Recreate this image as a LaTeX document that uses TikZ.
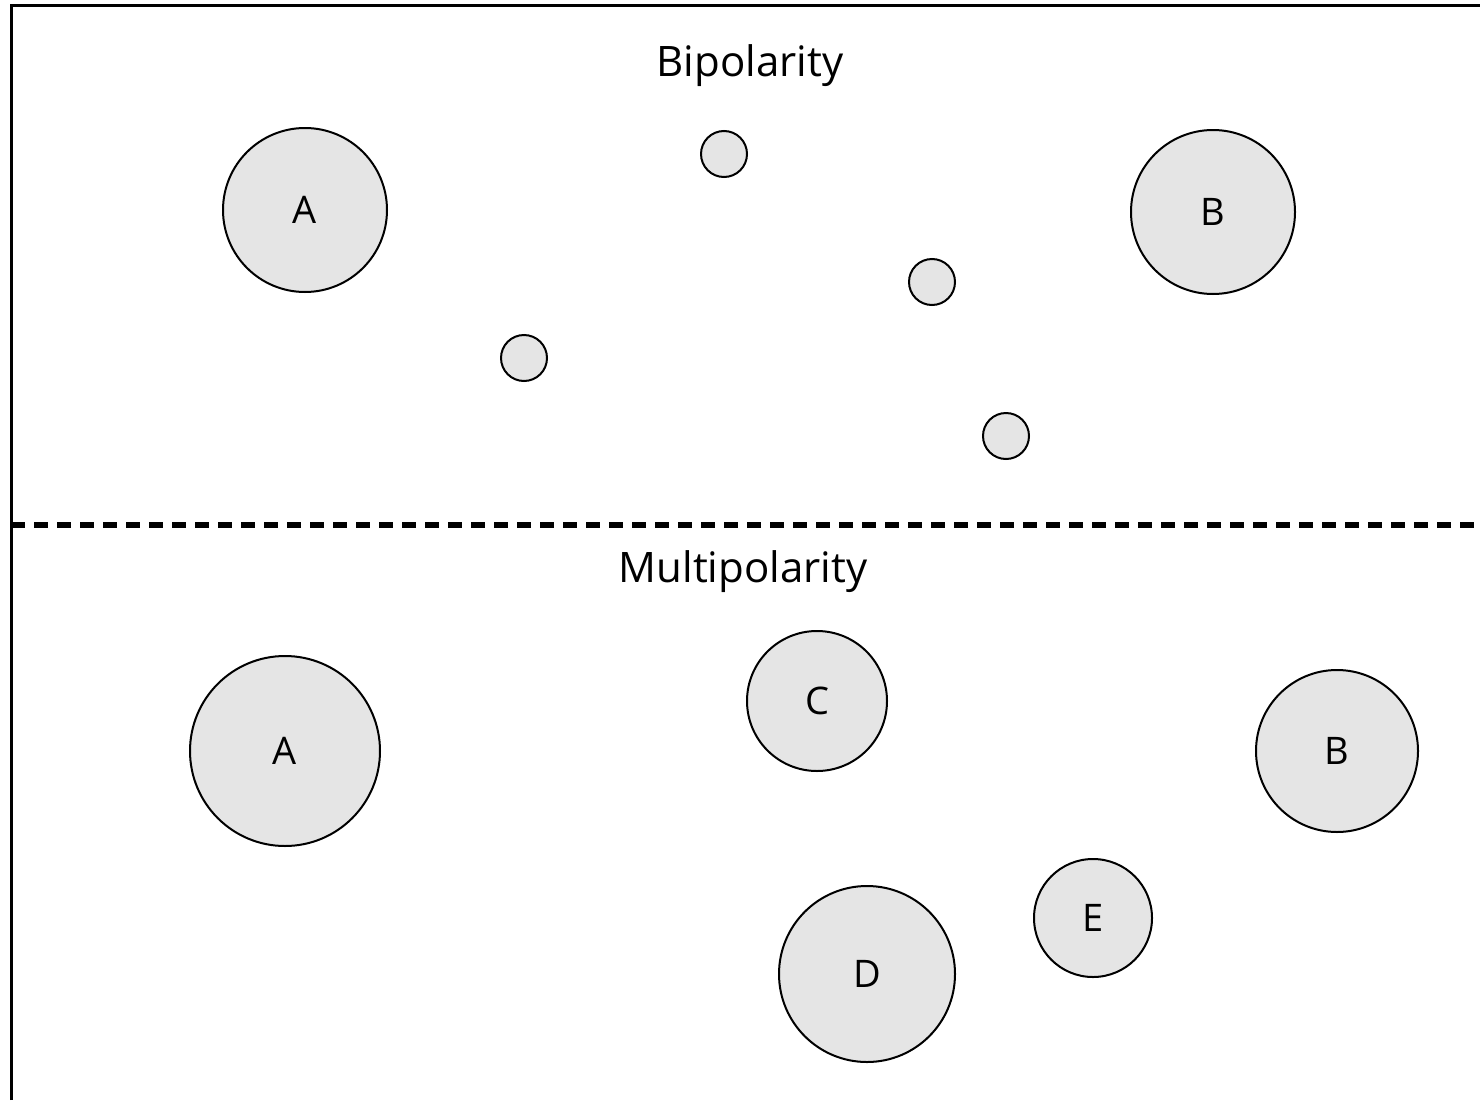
\documentclass[tikz,border=0pt]{standalone}
\usepackage{fontspec}
\setmainfont{Open Sans}
\begin{document}
\begin{tikzpicture}[x=1pt,y=-1pt,
  power/.style={circle,draw=black,line width=2pt,fill=gray!20,inner sep=0pt,
    minimum size=#1,font=\fontsize{38}{44}\selectfont},
  minor/.style={circle,draw=black,line width=2pt,fill=gray!20,inner sep=0pt,minimum size=46pt},
  heading/.style={font=\fontsize{42}{50}\selectfont}]
\useasboundingbox (0,0) rectangle (1480,1100);
% frame and divider
\coordinate (tl) at (11,5);
\coordinate (tr) at (1480,5);
\coordinate (bl) at (11,1100);
\coordinate (dl) at (11,525);
\coordinate (dr) at (1480,525);
\draw[line width=3pt] (bl) -- (tl) -- (tr);
\draw[line width=5.5pt,dash pattern=on 14pt off 9pt] (dl) -- (dr);
% bipolar system
\node[heading] (bip) at (750,66) {Bipolarity};
\node[power=164pt] (a1) at (305,210) {A};
\node[power=164pt] (b1) at (1213,212) {B};
\node[minor] (s1) at (724,154) {};
\node[minor] (s2) at (932,282) {};
\node[minor] (s3) at (524,358) {};
\node[minor] (s4) at (1006,436) {};
% multipolar system
\node[heading] (mul) at (743,572) {Multipolarity};
\node[power=190pt] (a2) at (285,751) {A};
\node[power=140pt] (c2) at (817,701) {C};
\node[power=162pt] (b2) at (1337,751) {B};
\node[power=118pt] (e2) at (1093,918) {E};
\node[power=176pt] (d2) at (867,974) {D};
\end{tikzpicture}
\end{document}
